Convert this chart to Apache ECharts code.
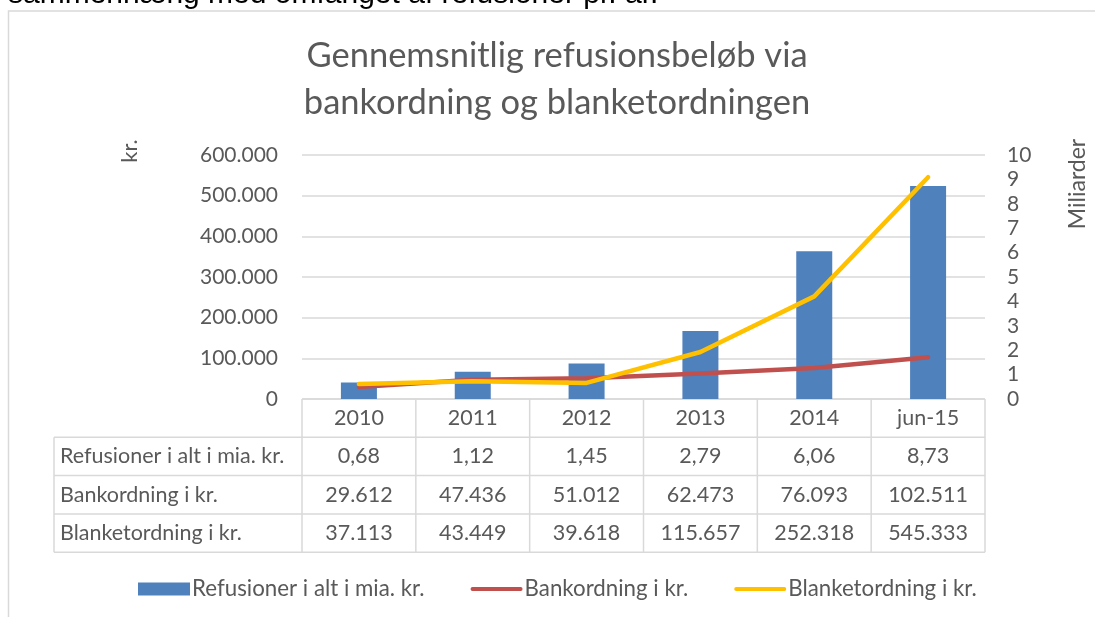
<!DOCTYPE html>
<html>
<head>
<meta charset="utf-8">
<script src="https://cdn.jsdelivr.net/npm/echarts@6/dist/echarts.min.js"></script>
<style>
  html, body { margin: 0; padding: 0; background: #fff; }
  #chart { width: 1095px; height: 617px; }
</style>
</head>
<body>
<div id="chart"></div>
<script>
const categories = ['2010', '2011', '2012', '2013', '2014', 'jun-15']
const refusioner = [0.68, 1.12, 1.45, 2.79, 6.06, 8.73]
const bankordning = [29612, 47436, 51012, 62473, 76093, 102511]
const blanketordning = [37113, 43449, 39618, 115657, 252318, 545333]
const seriesNames = ['Refusioner i alt i mia. kr.', 'Bankordning i kr.', 'Blanketordning i kr.']

const font = 'Lato, "Open Sans", sans-serif'
const grey = '#595959'
const lineGrey = '#d9d9d9'

// danish number formats
const fmtKr = v => String(v).replace(/\B(?=(\d{3})+(?!\d))/g, '.')
const fmtMia = v => v.toFixed(2).replace('.', ',')

const chart = echarts.init(document.getElementById('chart'))

const option = {
  animation: false,
  textStyle: { fontFamily: font },
  title: {
    text: 'Gennemsnitlig refusionsbeløb via\nbankordning og blanketordningen',
    left: 552,
    top: 27,
    textAlign: 'center',
    textStyle: { fontFamily: font, fontSize: 34.5, fontWeight: 'normal', color: grey, lineHeight: 47 }
  },
  legend: {
    left: 133,
    top: 573,
    itemGap: 46,
    itemWidth: 52,
    itemHeight: 13,
    textStyle: { fontFamily: font, fontSize: 22.3, color: grey, padding: [0, 0, 0, -3] },
    data: [
      { name: seriesNames[0], icon: 'rect' },
      { name: seriesNames[1], icon: 'path://M2,0 L52,0 A2,2 0 0 1 52,4 L2,4 A2,2 0 0 1 2,0 Z', itemStyle: { color: '#c0504d' } },
      { name: seriesNames[2], icon: 'path://M2,0 L52,0 A2,2 0 0 1 52,4 L2,4 A2,2 0 0 1 2,0 Z', itemStyle: { color: '#ffc000' } }
    ]
  },
  grid: { left: 302, right: 110, top: 155, bottom: 218 },
  xAxis: {
    type: 'category',
    data: categories,
    axisLine: { show: false },
    axisTick: { show: false },
    axisLabel: { show: false }
  },
  yAxis: [
    {
      type: 'value', min: 0, max: 600000, interval: 100000,
      axisLine: { show: false }, axisTick: { show: false },
      axisLabel: { fontSize: 21, color: grey, margin: 24, formatter: v => fmtKr(v) },
      splitLine: { lineStyle: { color: lineGrey, width: 1.5 } }
    },
    {
      type: 'value', min: 0, max: 10, interval: 1,
      axisLine: { show: false }, axisTick: { show: false },
      axisLabel: { fontSize: 21, color: grey, margin: 22 },
      splitLine: { show: false }
    }
  ],
  series: [
    {
      name: seriesNames[0], type: 'bar', yAxisIndex: 1, barWidth: 36,
      itemStyle: { color: '#4f81bd' },
      data: refusioner
    },
    {
      name: seriesNames[1], type: 'line', yAxisIndex: 0, symbol: 'none',
      lineStyle: { color: '#c0504d', width: 4.5, cap: 'round', join: 'round' },
      itemStyle: { color: '#c0504d' },
      data: bankordning
    },
    {
      name: seriesNames[2], type: 'line', yAxisIndex: 0, symbol: 'none',
      lineStyle: { color: '#ffc000', width: 4.5, cap: 'round', join: 'round' },
      itemStyle: { color: '#ffc000' },
      data: blanketordning
    }
  ]
}
chart.setOption(option)

// data table under the plot, placed from the category axis
const centers = categories.map((c, i) => chart.convertToPixel({ xAxisIndex: 0 }, i))
const band = centers[1] - centers[0]
const x0 = centers[0] - band / 2
const x1 = centers[centers.length - 1] + band / 2
const yTop = chart.convertToPixel({ yAxisIndex: 0 }, 0)
const rowH = 38.3
const labelLeft = 54
const rows = [
  { label: seriesNames[0], values: refusioner.map(fmtMia) },
  { label: seriesNames[1], values: bankordning.map(fmtKr) },
  { label: seriesNames[2], values: blanketordning.map(fmtKr) }
]
const lineStyle = { stroke: lineGrey, lineWidth: 1.5 }
const txt = (x, y, text, align) => ({
  type: 'text', x: x, y: y, silent: true,
  style: { text: text, fill: grey, font: '21.5px ' + font, textAlign: align, textVerticalAlign: 'middle' }
})
const els = []
const yBottom = yTop + rowH * 4
els.push({ type: 'line', shape: { x1: x0, y1: yTop, x2: x1, y2: yTop }, style: lineStyle })
for (let r = 1; r <= 4; r++) {
  const y = yTop + rowH * r
  els.push({ type: 'line', shape: { x1: labelLeft, y1: y, x2: x1, y2: y }, style: lineStyle })
}
for (let i = 0; i <= categories.length; i++) {
  const x = x0 + band * i
  els.push({ type: 'line', shape: { x1: x, y1: yTop, x2: x, y2: yBottom }, style: lineStyle })
}
els.push({ type: 'line', shape: { x1: labelLeft, y1: yTop + rowH, x2: labelLeft, y2: yBottom }, style: lineStyle })
categories.forEach((c, i) => els.push(txt(centers[i], yTop + rowH / 2, c, 'center')))
rows.forEach((row, r) => {
  const y = yTop + rowH * (r + 1.5)
  els.push(txt(labelLeft + 6, y, row.label, 'left'))
  row.values.forEach((v, i) => els.push(txt(centers[i], y, v, 'center')))
})

// axis names, chart frame and the cut-off caption above it
els.push({
  type: 'text', x: 130, y: 151, rotation: Math.PI / 2, silent: true,
  style: { text: 'kr.', fill: grey, font: '22px ' + font, textAlign: 'center', textVerticalAlign: 'middle' }
})
els.push({
  type: 'text', x: 1078, y: 184, rotation: Math.PI / 2, silent: true,
  style: { text: 'Miliarder', fill: grey, font: '23px ' + font, textAlign: 'center', textVerticalAlign: 'middle' }
})
els.push({ type: 'rect', shape: { x: 8.5, y: 11, width: 1200, height: 700 }, style: { fill: null, stroke: lineGrey, lineWidth: 1.5 }, silent: true })
els.push({
  type: 'text', x: 8, y: -5, silent: true,
  style: { text: 'sammenhæng med omfanget af refusioner pr. år.', fill: '#000', font: '30px "Liberation Sans", Arial, sans-serif', textAlign: 'left', textVerticalAlign: 'middle' }
})
chart.setOption({ graphic: els })

window.onresize = () => chart.resize()
</script>
</body>
</html>
